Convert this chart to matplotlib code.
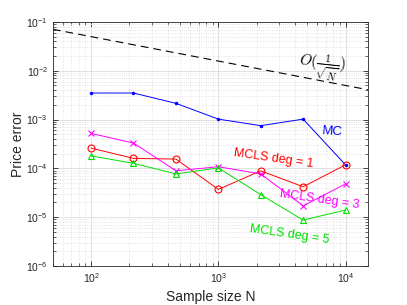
import numpy as np
import matplotlib
matplotlib.use('Agg')
import matplotlib.pyplot as plt

plt.rcParams['font.family'] = ['Liberation Sans', 'DejaVu Sans']
plt.rcParams['mathtext.fontset'] = 'cm'

sample_sizes = [100, 215, 464, 1000, 2154, 4642, 10000]
mc_error = [3.5e-3, 3.5e-3, 2.15e-3, 1.02e-3, 7.5e-4, 1.02e-3, 1.18e-4]
mcls1_error = [2.6e-4, 1.6e-4, 1.55e-4, 3.7e-5, 8.9e-5, 4.2e-5, 1.18e-4]
mcls3_error = [5.2e-4, 3.3e-4, 8.9e-5, 1.08e-4, 7.7e-5, 1.7e-5, 4.8e-5]
mcls5_error = [1.8e-4, 1.27e-4, 7.7e-5, 1.02e-4, 2.9e-5, 8.7e-6, 1.4e-5]
ref_n = [50, 15000]
ref_const = 0.5

axis_color = '#262626'
green = '#00e000'

fig = plt.figure(figsize=(4.07, 3.05), dpi=100)
ax = fig.add_axes([0.130, 0.128, 0.774, 0.800])

ref_n = np.array(ref_n, dtype=float)
ax.loglog(ref_n, ref_const / np.sqrt(ref_n), '--', color='black', linewidth=0.8,
          dashes=(7, 4.5))
ax.loglog(sample_sizes, mc_error, '.-', color='blue', linewidth=0.7, markersize=3)
ax.loglog(sample_sizes, mcls1_error, 'o-', color='red', linewidth=0.7,
          markersize=5, markerfacecolor='none', markeredgewidth=0.8)
ax.loglog(sample_sizes, mcls3_error, 'x-', color='magenta', linewidth=0.7,
          markersize=4, markeredgewidth=0.8)
ax.loglog(sample_sizes, mcls5_error, '^-', color=green, linewidth=0.7,
          markersize=5, markerfacecolor='none', markeredgewidth=0.8)

ax.set_xlim(50, 15000)
ax.set_ylim(1e-6, 1e-1)

ax.text(6450, 1.2e-2, r'$O(\frac{1}{\sqrt{N}})$', fontsize=11, rotation=-6,
        ha='center', va='center')
ax.text(7950, 5.6e-4, 'MC', color='blue', fontsize=9.5, rotation=-4,
        ha='center', va='center')
ax.text(2720, 1.55e-4, 'MCLS deg = 1', color='red', fontsize=9, rotation=-8,
        ha='center', va='center')
ax.text(6250, 2.24e-5, 'MCLS deg = 3', color='magenta', fontsize=9, rotation=-8,
        ha='center', va='center')
ax.text(3630, 4.3e-6, 'MCLS deg = 5', color=green, fontsize=9, rotation=-8,
        ha='center', va='center')

ax.set_xlabel('Sample size N', fontsize=10, color=axis_color)
ax.set_ylabel('Price error', fontsize=10, color=axis_color, labelpad=1)

ax.grid(True, which='major', color='#dcdcdc', linewidth=0.6)
ax.grid(True, which='minor', color='#dcdcdc', linestyle=':', linewidth=0.6)
ax.set_axisbelow(True)
ax.tick_params(which='both', direction='in', top=True, right=True,
               colors=axis_color, labelsize=7.5)
ax.tick_params(which='major', length=3.5, width=0.6)
ax.tick_params(which='minor', length=2, width=0.5)
for spine in ax.spines.values():
    spine.set_color(axis_color)
    spine.set_linewidth(0.6)

plt.savefig('out.png', dpi=100)
